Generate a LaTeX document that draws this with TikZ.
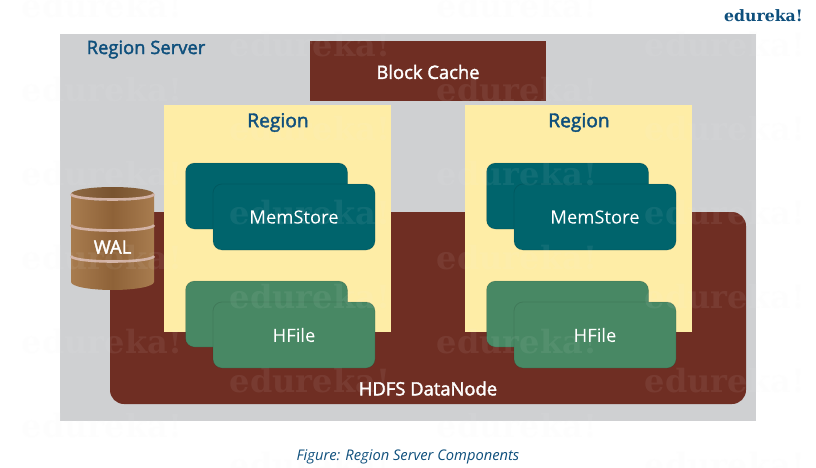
\documentclass[tikz,border=0pt]{standalone}
\usepackage{fontspec}
\setmainfont{Open Sans}
\newfontfamily\semifont[FakeBold=2]{Open Sans}
\newfontfamily\slabfont{DejaVu Serif}
\definecolor{panelgray}{HTML}{CFD0D2}
\definecolor{brickred}{HTML}{6F2E23}
\definecolor{paleyellow}{HTML}{FEEDA6}
\definecolor{tealbox}{HTML}{00646C}
\definecolor{greenbox}{HTML}{488864}
\definecolor{titleblue}{HTML}{0E4F7C}
\definecolor{woodA}{HTML}{A87C4F}
\definecolor{woodB}{HTML}{8E6238}
\definecolor{bandpink}{HTML}{D3B3A6}
\tikzset{
  x=1pt,y=-1pt,
  card/.style={rounded corners=9pt,inner sep=0pt,minimum width=162pt,minimum height=66pt,draw=black,draw opacity=.1,line width=.8pt,text=white,font=\semifont\fontsize{18.4}{20}\selectfont},
  lbl/.style={text=white,inner sep=0pt,font=\semifont\fontsize{18.4}{20}\selectfont},
  head/.style={text=titleblue,inner sep=0pt,font=\semifont\fontsize{18.4}{20}\selectfont},
  wmark/.style={text=black!6,text opacity=.07,inner sep=0pt,font=\slabfont\bfseries\fontsize{32}{34}\selectfont},
  band/.style={draw=bandpink,line width=2.6pt},
}
\newcommand{\regionblock}[2]{%
  \node[fill=paleyellow,inner sep=0pt,minimum width=227pt,minimum height=227pt] (#2yellow) at (#1+113.5,218.5) {};
  \node[head,font=\semifont\fontsize{19.2}{20}\selectfont] (#2title) at (#1+114,122.5) {Region};
  \node[card,fill=tealbox] (#2memback) at (#1+102.5,196) {};
  \node[card,fill=tealbox] (#2mem) at (#1+130,217) {MemStore};
  \node[card,fill=greenbox] (#2hback) at (#1+102.5,314) {};
  \node[card,fill=greenbox] (#2hfile) at (#1+130,335) {HFile};
}
\begin{document}
\begin{tikzpicture}
\useasboundingbox (0,0) rectangle (816,468);
\fill[white] (0,0) rectangle (816,468);
\node[fill=panelgray,inner sep=0pt,minimum width=696pt,minimum height=387pt] (server) at (408,227.5) {};
\node[fill=brickred,rounded corners=14pt,inner sep=0pt,minimum width=636pt,minimum height=192pt] (datanode) at (428,308) {};
\node[lbl] (datanodelabel) at (428,388.5) {HDFS DataNode};
\node[fill=brickred,inner sep=0pt,minimum width=236pt,minimum height=60pt] (cache) at (428,71) {};
\node[lbl] (cachelabel) at (428,72) {Block Cache};
\node[head,anchor=west] (servertitle) at (86.5,49.5) {Region Server};
\regionblock{164}{a}
\regionblock{465}{b}
% WAL cylinder
\shade[left color=woodA,right color=woodA,middle color=woodB,shading angle=90]
  (71,194) -- (71,282) arc[start angle=180,end angle=360,x radius=41.5,y radius=-8] -- (154,194) arc[start angle=0,end angle=180,x radius=41.5,y radius=7] -- cycle;
\shade[left color=woodA!85!black,right color=woodA!85!black,middle color=woodB!85!black,shading angle=90]
  (112.5,194) ellipse[x radius=41.5,y radius=7];
\draw[band] (71,194) arc[start angle=180,end angle=360,x radius=41.5,y radius=-5.5];
\draw[band] (71,225) arc[start angle=180,end angle=360,x radius=41.5,y radius=-5.5];
\draw[band] (71,256) arc[start angle=180,end angle=360,x radius=41.5,y radius=-5.5];
\node[lbl] (wal) at (112.5,247) {WAL};
\node[text=titleblue,inner sep=0pt,anchor=east,font=\slabfont\bfseries\fontsize{15.7}{17}\selectfont] (logo) at (803,16) {edureka!};
\node[text=titleblue,inner sep=0pt,font=\fontsize{14.7}{16}\selectfont\itshape] (caption) at (408,457) {Figure: Region Server Components};
% watermarks
\foreach \cx/\off in {102/0,310/1,517/0,725/1}{
  \foreach \r in {0,...,5}{
    \node[wmark] (w\cx-\r) at (\cx,{6+\off*39+\r*84}) {edureka!};
  }
}
\end{tikzpicture}
\end{document}
